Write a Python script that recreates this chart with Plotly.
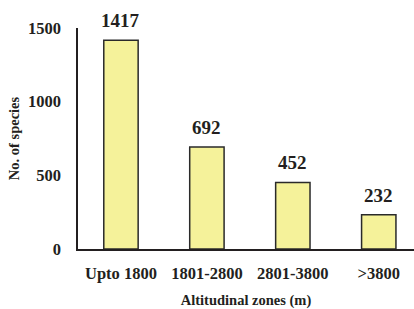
import plotly.graph_objects as go

categories = ["Upto 1800", "1801-2800", "2801-3800", ">3800"]
species = [1417, 692, 452, 232]
y_ticks = [0, 500, 1000, 1500]

font = "Liberation Serif"

fig = go.Figure()
fig.add_trace(go.Bar(
    x=categories, y=species,
    marker=dict(color="#F5F29A", line=dict(color="#2A2A2A", width=1.5)),
    width=0.40,
))
for c, v in zip(categories, species):
    fig.add_annotation(x=c, y=v, text=f"<b>{v}</b>", showarrow=False,
                       yanchor="bottom", yshift=7,
                       font=dict(family=font, size=19, color="#231F20"))

fig.update_layout(
    width=414, height=309,
    margin=dict(l=78, r=0, t=28, b=60),
    paper_bgcolor="white", plot_bgcolor="white",
    showlegend=False,
    font=dict(family=font, color="#231F20"),
)
fig.update_xaxes(
    range=[-0.5, 3.41], showline=True, linecolor="#231F20", linewidth=1.5,
    ticks="", showgrid=False, automargin=False, ticklabelstandoff=8,
    tickfont=dict(family=font, size=16.5, color="#231F20", weight="bold"),
    title=dict(text="<b>Altitudinal zones (m)</b>", font=dict(family=font, size=14.5), standoff=18),
)
fig.update_yaxes(
    range=[0, 1500], showline=True, linecolor="#231F20", linewidth=1.5,
    ticks="", showgrid=False, zeroline=False, automargin=False,
    tickvals=y_ticks, ticklabelstandoff=12,
    tickfont=dict(family=font, size=16.5, color="#231F20", weight="bold"),
    title=dict(text="<b>No. of species</b>", font=dict(family=font, size=14.5), standoff=5),
)
fig.write_html("out.html", config={"displayModeBar": False},
               post_script="document.body.style.margin='0';document.body.style.overflow='hidden';")
